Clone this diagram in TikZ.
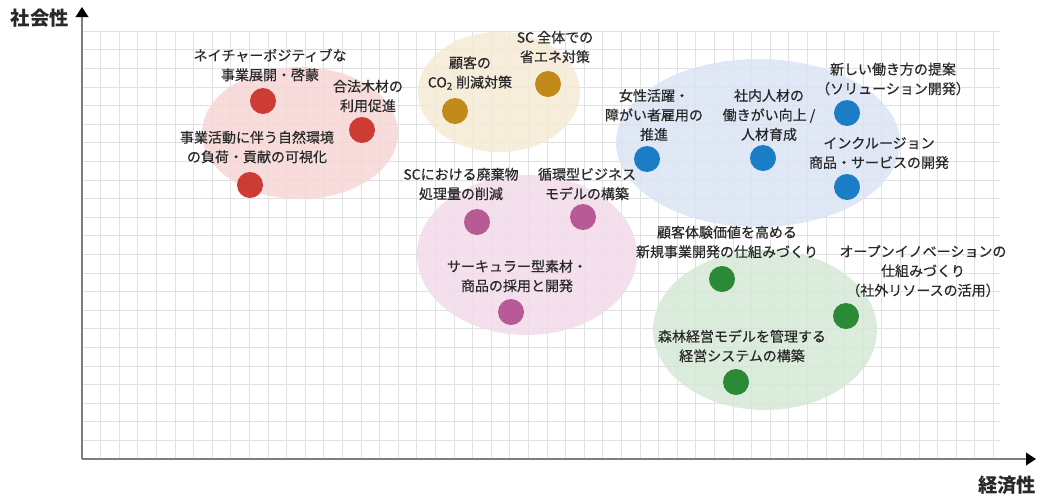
\documentclass[tikz,border=0pt]{standalone}
\usepackage{fontspec}
\setmainfont{Noto Sans CJK JP}
\usetikzlibrary{arrows.meta}
\tikzset{every picture/.style={line width=0.75pt}}
\definecolor{txtgray}{RGB}{40,40,40}
\definecolor{gridgray}{RGB}{225,225,228}
\definecolor{axisgray}{RGB}{125,125,125}
\definecolor{redfill}{RGB}{246,214,213}
\definecolor{tanfill}{RGB}{245,234,212}
\definecolor{bluefill}{RGB}{218,228,245}
\definecolor{pinkfill}{RGB}{242,218,234}
\definecolor{greenfill}{RGB}{213,233,214}
\definecolor{reddot}{RGB}{204,60,52}
\definecolor{tandot}{RGB}{194,138,25}
\definecolor{bluedot}{RGB}{27,125,198}
\definecolor{pinkdot}{RGB}{183,90,150}
\definecolor{greendot}{RGB}{43,138,54}
\tikzset{
  gridline/.style={draw=gridgray, line width=0.6pt},
  axisline/.style={draw=axisgray, line width=1.1pt, -{Triangle[length=7.5pt,width=9.5pt,color=black]}},
  blob/.style={fill=#1, fill opacity=0.85},
  dotnode/.style={circle, fill=#1, minimum size=19.5pt, inner sep=0pt},
  itemtext/.style={font=\fontsize{10.5}{14.6}\selectfont\addfontfeatures{FakeBold=0.4}, align=center, text=txtgray, inner sep=0.75pt},
  axistext/.style={font=\fontsize{14.5}{16}\selectfont\bfseries, text=txtgray, inner sep=0.75pt},
}

\begin{document}
\begin{tikzpicture}[x=0.75pt,y=0.75pt,yscale=-1,xscale=1]
    \useasboundingbox (0,0) rectangle (1043,497);

    %Grid
    \foreach \i in {0,...,49}
      \draw[gridline] ({82+18.6*\i},31) -- ({82+18.6*\i},459);
    \foreach \j in {0,...,23}
      \draw[gridline] (82,{459-18.6*\j}) -- (1000,{459-18.6*\j});

    %Shape: Ellipse
    \fill[blob=redfill] (300,133) ellipse [x radius=98, y radius=66];
    %Shape: Ellipse
    \fill[blob=tanfill] (499,92) ellipse [x radius=81, y radius=60];
    %Shape: Ellipse
    \fill[blob=bluefill] (758,143) ellipse [x radius=142, y radius=84];
    %Shape: Ellipse
    \fill[blob=pinkfill] (527,255) ellipse [x radius=110, y radius=80];
    %Shape: Ellipse
    \fill[blob=greenfill] (765,330) ellipse [x radius=112, y radius=80];

    %Axes
    \coordinate (origin) at (82,459);
    \coordinate (ytip) at (82,7);
    \coordinate (xtip) at (1036,459);
    \draw[axisline] (origin) -- (ytip);
    \draw[axisline] (origin) -- (xtip);

    %Dots
    \node[dotnode=reddot] (nature) at (263,101) {};
    \node[dotnode=reddot] (legalwood) at (362,130) {};
    \node[dotnode=reddot] (visual) at (250,185) {};
    \node[dotnode=tandot] (scenergy) at (548,84) {};
    \node[dotnode=tandot] (coreduce) at (455,111) {};
    \node[dotnode=bluedot] (women) at (647,159) {};
    \node[dotnode=bluedot] (staff) at (763,158) {};
    \node[dotnode=bluedot] (newwork) at (847,113) {};
    \node[dotnode=bluedot] (inclusion) at (847,187) {};
    \node[dotnode=pinkdot] (waste) at (477,222) {};
    \node[dotnode=pinkdot] (circbiz) at (583,217) {};
    \node[dotnode=pinkdot] (circmat) at (511,312) {};
    \node[dotnode=greendot] (custexp) at (722,279) {};
    \node[dotnode=greendot] (openinno) at (846,316) {};
    \node[dotnode=greendot] (forest) at (736,382) {};

    % Text Node
    \node[itemtext] (naturetxt) at (270,65) {ネイチャーポジティブな\\事業展開・啓蒙};
    % Text Node
    \node[itemtext] (legalwoodtxt) at (368,96) {合法木材の\\利用促進};
    % Text Node
    \node[itemtext] (visualtxt) at (257,147) {事業活動に伴う自然環境\\の負荷・貢献の可視化};
    % Text Node
    \node[itemtext] (coreducetxt) at (470,73) {顧客の\\CO\textsubscript{2} 削減対策};
    % Text Node
    \node[itemtext] (scenergytxt) at (555,47) {SC 全体での\\省エネ対策};
    % Text Node
    \node[itemtext] (womentxt) at (654,115) {女性活躍・\\障がい者雇用の\\推進};
    % Text Node
    \node[itemtext] (stafftxt) at (769,115) {社内人材の\\働きがい向上 /\\人材育成};
    % Text Node
    \node[itemtext] (newworktxt) at (893,79) {新しい働き方の提案\\（ソリューション開発）};
    % Text Node
    \node[itemtext] (inclusiontxt) at (879,153) {インクルージョン\\商品・サービスの開発};
    % Text Node
    \node[itemtext] (wastetxt) at (461,184) {SCにおける廃棄物\\処理量の削減};
    % Text Node
    \node[itemtext] (circbiztxt) at (587,184) {循環型ビジネス\\モデルの構築};
    % Text Node
    \node[itemtext] (circmattxt) at (517,276) {サーキュラー型素材・\\商品の採用と開発};
    % Text Node
    \node[itemtext] (custexptxt) at (727,242) {顧客体験価値を高める\\新規事業開発の仕組みづくり};
    % Text Node
    \node[itemtext] (openinnotxt) at (923,271) {オープンイノベーションの\\仕組みづくり\\（社外リソースの活用）};
    % Text Node
    \node[itemtext] (foresttxt) at (742,346) {森林経営モデルを管理する\\経営システムの構築};

    % Text Node
    \node[axistext] (ylabel) at (40,18) {社会性};
    % Text Node
    \node[axistext] (xlabel) at (1007,485) {経済性};
\end{tikzpicture}
\end{document}
